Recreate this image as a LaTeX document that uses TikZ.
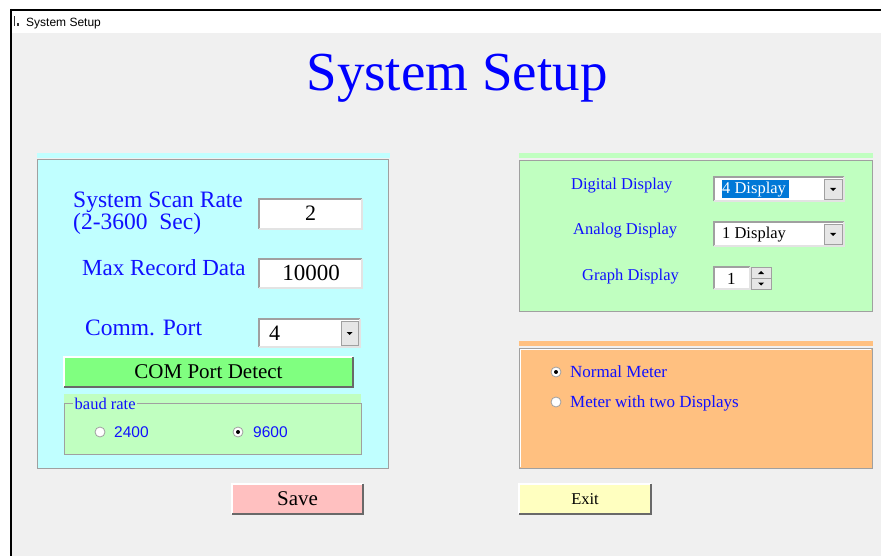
\documentclass[tikz,border=0pt]{standalone}
\usepackage{fontspec}
\setmainfont{Liberation Serif}
\newfontfamily\uisans{Liberation Sans}
\usetikzlibrary{fit}

\definecolor{winbg}{HTML}{F0F0F0}
\definecolor{paneCyan}{HTML}{C0FFFF}
\definecolor{paneGreen}{HTML}{C0FFC0}
\definecolor{paneOrange}{HTML}{FFC080}
\definecolor{btnGreen}{HTML}{80FF80}
\definecolor{btnPink}{HTML}{FFC0C0}
\definecolor{btnYellow}{HTML}{FFFFC0}
\definecolor{labelBlue}{HTML}{1010FF}
\definecolor{selBlue}{HTML}{0078D7}
\definecolor{edgeDark}{HTML}{696969}
\definecolor{edgeMid}{HTML}{A0A0A0}
\definecolor{edgeLight}{HTML}{E3E3E3}
\definecolor{btnFace}{HTML}{E6E6E6}

% 3D edges of classic Windows controls
\newcommand\sunkenedge[1]{%
  \draw[edgeMid,line width=1.2pt] (#1.south west) -- (#1.north west) -- (#1.north east);
  \draw[edgeLight,line width=1.2pt] (#1.north east) -- (#1.south east) -- (#1.south west);}
\newcommand\raisededge[1]{%
  \draw[white,line width=1.5pt] (#1.south west) -- (#1.north west) -- (#1.north east);
  \draw[edgeDark,line width=2pt] (#1.north east) -- (#1.south east) -- (#1.south west);}
\newcommand\downarrowin[1]{%
  \fill ([shift={(-3,-1)}]#1.center) -- ++(6,0) -- ++(-3,3) -- cycle;}
\newcommand\uparrowin[1]{%
  \fill ([shift={(-3,1.5)}]#1.center) -- ++(6,0) -- ++(-3,-3) -- cycle;}

\begin{document}
\begin{tikzpicture}[x=1pt,y=-1pt,
  area/.style={inner sep=0pt,outer sep=0pt},
  panel/.style={area,draw=edgeMid,line width=1pt},
  field/.style={area,fill=white},
  button/.style={area},
  combobtn/.style={area,fill=btnFace,draw=edgeMid,line width=0.6pt},
  radio/.style={circle,draw=edgeMid,fill=white,line width=0.8pt,minimum size=10pt,inner sep=0pt},
  lbl/.style={text=labelBlue,inner sep=0pt,anchor=base west},
  val/.style={text=black,inner sep=0pt,anchor=base},
]
\useasboundingbox (0,0) rectangle (881,556);
\fill[white] (0,0) rectangle (881,556);

% window client area and frame
\node[area,fill=winbg,fit={(12,33) (881,556)}] (client) {};
\draw[black,line width=2pt] (11,10) -- (881,10);
\draw[black,line width=1.5pt] (11,9) -- (11,556);
\fill[black!80] (13.5,16) rectangle (15,26);
\fill[black!80] (17,23.5) rectangle (19,26);
\node[inner sep=0pt,anchor=base west,font=\uisans\fontsize{12}{14}\selectfont] (wintitle) at (26,27) {System Setup};

% heading
\node[inner sep=0pt,anchor=base,text=blue,font=\fontsize{55}{60}\selectfont] (heading) at (457,91) {System Setup};

% ---------- left panel ----------
\fill[paneCyan] (37,153) rectangle (390,158);
\node[panel,fill=paneCyan,fit={(37,160) (388,468)}] (leftpane) {};

\node[lbl,font=\fontsize{23.5}{26}\selectfont] (scanlbl) at (73,208) {System Scan Rate};
\node[lbl,font=\fontsize{23.5}{26}\selectfont] (scanrng) at (73,230) {(2-3600\ \ Sec)};
\node[field,fit={(259,199) (362,229)}] (scanfld) {};
\sunkenedge{scanfld}
\node[val,font=\fontsize{22}{24}\selectfont] (scanval) at (310.5,221) {2};

\node[lbl,font=\fontsize{23}{26}\selectfont] (maxlbl) at (82,276) {Max Record Data};
\node[field,fit={(259,259) (362,288)}] (maxfld) {};
\sunkenedge{maxfld}
\node[val,font=\fontsize{23}{24}\selectfont] (maxval) at (311,280) {10000};

\node[lbl,font=\fontsize{23.5}{26}\selectfont] (portlbl) at (85,335) {Comm. Port};
\node[field,fit={(259,319) (360,347)}] (portcmb) {};
\sunkenedge{portcmb}
\node[val,anchor=base west,font=\fontsize{22}{24}\selectfont] (portval) at (269,340) {4};
\node[combobtn,fit={(341,321) (358,345)}] (portbtn) {};
\downarrowin{portbtn}

\node[button,fill=btnGreen,fit={(64,357) (353,387)}] (detect) {};
\raisededge{detect}
\node[val,font=\fontsize{21}{24}\selectfont] (detecttxt) at (208.5,378) {COM Port Detect};

% baud rate group
\fill[paneGreen] (64,394) rectangle (361,454);
\node[area,draw=edgeMid,line width=0.8pt,fit={(64,403) (361,454)}] (baudgrp) {};
\node[lbl,fill=paneGreen,inner xsep=1.5pt,font=\fontsize{16.5}{18}\selectfont] (baudlbl) at (73,409) {baud rate};
\node[radio] (r2400) at (100,432) {};
\node[lbl,font=\uisans\fontsize{15.5}{18}\selectfont] (t2400) at (114,437.5) {2400};
\node[radio] (r9600) at (238,432) {};
\fill (r9600.center) circle (2pt);
\node[lbl,font=\uisans\fontsize{15.5}{18}\selectfont] (t9600) at (253,437.5) {9600};

% ---------- display settings panel ----------
\fill[paneGreen] (519,153) rectangle (873,158);
\node[panel,fill=paneGreen,fit={(519,161) (872,311)}] (disppane) {};

\node[lbl,font=\fontsize{16.5}{20}\selectfont] (diglbl) at (571,190) {Digital Display};
\node[field,fit={(714,177) (844,201)}] (digcmb) {};
\sunkenedge{digcmb}
\node[area,fill=selBlue,fit={(722,180) (789,198)}] (digsel) {};
\node[val,anchor=base west,text=white,font=\fontsize{16.5}{20}\selectfont] (digval) at (722,194) {4 Display};
\node[combobtn,fit={(824,179) (842,199)}] (digbtn) {};
\downarrowin{digbtn}

\node[lbl,font=\fontsize{16.5}{20}\selectfont] (analbl) at (573,235) {Analog Display};
\node[field,fit={(714,222) (844,246)}] (anacmb) {};
\sunkenedge{anacmb}
\node[val,anchor=base west,font=\fontsize{16.5}{20}\selectfont] (anaval) at (722,239) {1 Display};
\node[combobtn,fit={(824,224) (842,244)}] (anabtn) {};
\downarrowin{anabtn}

\node[lbl,font=\fontsize{16.5}{20}\selectfont] (grlbl) at (582,280) {Graph Display};
\node[field,fit={(714,267) (750,289)}] (grfld) {};
\sunkenedge{grfld}
\node[val,anchor=base west,font=\fontsize{17}{20}\selectfont] (grval) at (727,284) {1};
\node[combobtn,fit={(751,267) (771,278)}] (grup) {};
\uparrowin{grup}
\node[combobtn,fit={(751,278) (771,289)}] (grdown) {};
\downarrowin{grdown}

% ---------- meter type panel ----------
\fill[paneOrange] (519,341) rectangle (873,346);
\node[panel,fill=paneOrange,fit={(519,348) (872,468)}] (meterpane) {};
\draw[white,line width=0.8pt] (meterpane.south west) ++(1,-1) |- ([shift={(-1,1)}]meterpane.north east);
\node[radio] (rnormal) at (556,372) {};
\fill (rnormal.center) circle (2pt);
\node[lbl,font=\fontsize{17}{20}\selectfont] (tnormal) at (570,377) {Normal Meter};
\node[radio] (rtwo) at (556,402) {};
\node[lbl,font=\fontsize{17}{20}\selectfont] (ttwo) at (570,407) {Meter with two Displays};

% ---------- bottom buttons ----------
\node[button,fill=btnPink,fit={(232,484) (363,514)}] (save) {};
\raisededge{save}
\node[val,font=\fontsize{21}{24}\selectfont] (savetxt) at (297.5,505) {Save};

\node[button,fill=btnYellow,fit={(519,484) (651,514)}] (exit) {};
\raisededge{exit}
\node[val,font=\fontsize{16.5}{20}\selectfont] (exittxt) at (585,504) {Exit};
\end{tikzpicture}
\end{document}
